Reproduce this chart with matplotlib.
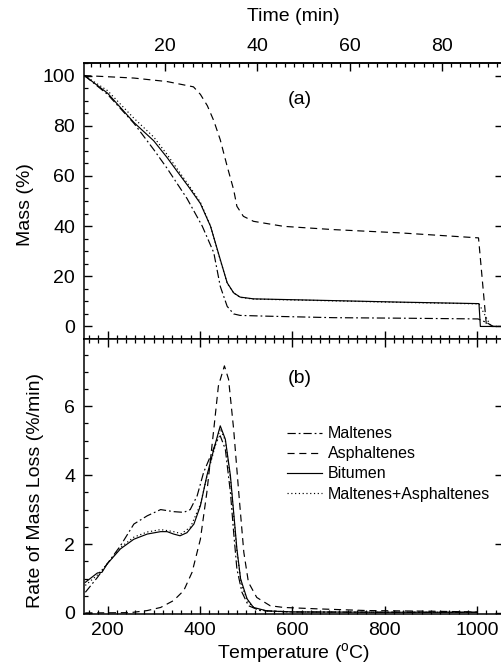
import matplotlib
matplotlib.use('Agg')
import matplotlib.pyplot as plt
from matplotlib.ticker import MultipleLocator, FixedLocator

plt.rcParams['font.family'] = ['Liberation Sans', 'DejaVu Sans']
plt.rcParams['mathtext.fontset'] = 'custom'
plt.rcParams['mathtext.rm'] = 'Liberation Sans'

# ---- TGA mass curves (temperature in C, mass in %) ----
T_mal_m = [150, 200, 257, 300, 329, 372, 405, 430, 444, 459, 473, 487, 545, 689, 833, 1002, 1020, 1035, 1056]
mal_mass = [100, 92.5, 81, 70.5, 63, 51, 40, 29.4, 16, 8, 5, 4.4, 4.1, 3.5, 3.3, 3.0, 1.6, 0, 0]

T_asp_m = [150, 257, 329, 386, 401, 416, 430, 444, 459, 473, 480, 494, 516, 581, 689, 833, 1003, 1020, 1030, 1056]
asp_mass = [100, 99, 97.6, 95.5, 92.5, 88, 82, 74.4, 63.8, 54.5, 47.9, 43.9, 41.9, 39.9, 38.6, 37.3, 35.3, 0.6, 0, 0]

T_bit_m = [150, 200, 257, 300, 329, 350, 375, 401, 423, 444, 459, 473, 487, 516, 689, 833, 1004, 1007, 1056]
bit_mass = [100, 93, 81.3, 74, 67.3, 62, 55.8, 49, 39.9, 26.7, 17.4, 13.4, 11.7, 11, 10.3, 9.7, 9.1, 0, 0]

T_sum_m = [150, 200, 257, 300, 329, 350, 375, 401, 423, 444, 459, 473, 487, 516, 689, 833, 1004, 1030, 1056]
sum_mass = [100, 94, 83, 75.5, 68.5, 63, 56.5, 49.5, 40, 26.5, 17.2, 13.3, 11.6, 10.9, 10.2, 9.6, 9.0, 0, 0]

# ---- DTG curves (rate of mass loss in %/min) ----
T_mal_r = [152, 178, 199, 228, 257, 286, 315, 343, 365, 379, 394, 408, 423, 437, 444, 455, 466, 473, 480, 491, 505, 530, 600, 800, 1000]
mal_rate = [0.6, 1.03, 1.42, 1.95, 2.58, 2.82, 3.0, 2.94, 2.92, 3.0, 3.4, 4.08, 4.56, 5.0, 5.14, 4.75, 3.5, 2.34, 1.28, 0.6, 0.21, 0.07, 0.03, 0.02, 0.02]

T_asp_r = [152, 250, 286, 315, 343, 365, 383, 401, 415, 430, 440, 453, 462, 473, 484, 495, 505, 523, 552, 581, 653, 761, 905, 1000]
asp_rate = [0.0, 0.01, 0.07, 0.16, 0.36, 0.65, 1.18, 2.14, 3.5, 5.33, 6.59, 7.17, 6.78, 5.33, 3.5, 1.76, 0.89, 0.45, 0.21, 0.16, 0.12, 0.07, 0.05, 0.03]

T_bit_r = [152, 178, 188, 199, 228, 257, 286, 315, 329, 343, 357, 372, 387, 401, 415, 430, 444, 455, 466, 473, 480, 488, 502, 516, 545, 600, 800, 1000]
bit_rate = [0.89, 1.16, 1.18, 1.42, 1.86, 2.14, 2.29, 2.36, 2.36, 2.29, 2.24, 2.33, 2.58, 3.11, 3.98, 4.75, 5.43, 5.04, 3.98, 2.92, 1.86, 0.99, 0.41, 0.16, 0.06, 0.03, 0.02, 0.02]

T_sum_r = [152, 178, 199, 228, 257, 286, 315, 343, 360, 380, 401, 415, 430, 444, 455, 466, 473, 480, 490, 505, 520, 550, 600, 800, 1000]
sum_rate = [0.8, 1.1, 1.42, 1.9, 2.2, 2.35, 2.42, 2.36, 2.3, 2.5, 3.15, 3.95, 4.7, 5.35, 5.0, 3.9, 2.85, 1.8, 0.8, 0.3, 0.12, 0.05, 0.03, 0.02, 0.02]

series_labels = ['Maltenes', 'Asphaltenes', 'Bitumen', 'Maltenes+Asphaltenes']
styles = [(0, (7, 2.5, 1.5, 2.5)), (0, (6, 4)), '-', (0, (1, 2.2))]
time_ticks = [20, 40, 60, 80]

lw = 0.85
fs = 14
fig = plt.figure(figsize=(5.01, 6.67), dpi=100)
left = 83.5 / 501
width = (503 - 83.5) / 501
ax1 = fig.add_axes([left, 1 - 339 / 667, width, 276 / 667])
ax2 = fig.add_axes([left, 1 - 614 / 667, width, 275 / 667])

# (a) mass
ax1.plot(T_mal_m, mal_mass, color='k', lw=lw, ls=styles[0])
ax1.plot(T_asp_m, asp_mass, color='k', lw=lw, ls=styles[1])
ax1.plot(T_bit_m, bit_mass, color='k', lw=lw, ls=styles[2])
ax1.plot(T_sum_m, sum_mass, color='k', lw=lw, ls=styles[3])

# (b) rate of mass loss
ax2.plot(T_mal_r, mal_rate, color='k', lw=lw, ls=styles[0], label=series_labels[0])
ax2.plot(T_asp_r, asp_rate, color='k', lw=lw, ls=styles[1], label=series_labels[1])
ax2.plot(T_bit_r, bit_rate, color='k', lw=lw, ls=styles[2], label=series_labels[2])
ax2.plot(T_sum_r, sum_rate, color='k', lw=lw, ls=styles[3], label=series_labels[3])

xlo, xhi = 148, 1056
for ax in (ax1, ax2):
    ax.set_xlim(xlo, xhi)
    for s in ax.spines.values():
        s.set_linewidth(1.1)
    ax.xaxis.set_major_locator(MultipleLocator(200))
    ax.xaxis.set_minor_locator(MultipleLocator(20))
    ax.tick_params(axis='both', which='major', direction='in', length=5.5, width=1.0,
                   labelsize=fs, pad=6)
    ax.tick_params(axis='both', which='minor', direction='in', length=3, width=0.9)
    ax.tick_params(axis='y', which='major', right=True)
    ax.yaxis.set_tick_params(which='minor', right=False)

ax1.set_ylim(-5, 105)
ax1.yaxis.set_major_locator(MultipleLocator(20))
ax1.yaxis.set_minor_locator(MultipleLocator(5))
ax1.tick_params(axis='x', which='both', top=False, labelbottom=False)
ax1.set_ylabel('Mass (%)', fontsize=fs)
ax1.yaxis.set_label_coords(-0.118, 0.486)
ax1.text(0.516, 0.866, '(a)', transform=ax1.transAxes, fontsize=fs, ha='center', va='center')

# time axis on top: heating at 10 C/min
top = ax1.secondary_xaxis('top', functions=(lambda T: (T - 124) / 10.0, lambda t: 124 + 10.0 * t))
top.xaxis.set_major_locator(FixedLocator(time_ticks))
top.xaxis.set_minor_locator(MultipleLocator(2))
top.tick_params(which='major', direction='in', length=5.5, width=1.0, labelsize=fs, pad=6)
top.tick_params(which='minor', direction='in', length=3, width=0.9)
top.spines['top'].set_linewidth(1.1)
top.set_xlabel('Time (min)', fontsize=fs, labelpad=12)

ax2.set_ylim(-0.03, 7.95)
ax2.yaxis.set_major_locator(MultipleLocator(2))
ax2.yaxis.set_minor_locator(MultipleLocator(0.5))
ax2.tick_params(axis='x', which='both', top=True)
ax2.set_ylabel('Rate of Mass Loss (%/min)', fontsize=fs)
ax2.yaxis.set_label_coords(-0.095, 0.45)
ax2.set_xlabel(r'Temperature ($^{\mathrm{o}}$C)', fontsize=fs, labelpad=1.5)
ax2.text(0.516, 0.858, '(b)', transform=ax2.transAxes, fontsize=fs, ha='center', va='center')

ax2.legend(loc='upper left', bbox_to_anchor=(0.485, 0.683), frameon=False, fontsize=11.5,
           handlelength=2.2, handletextpad=0.35, labelspacing=0.32, borderpad=0,
           borderaxespad=0)

fig.savefig('out.png', dpi=100)
